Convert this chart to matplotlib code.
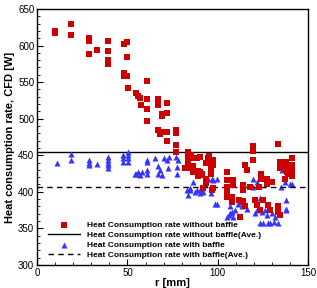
import numpy as np
import matplotlib
matplotlib.use('Agg')
import matplotlib.pyplot as plt
from matplotlib.ticker import MultipleLocator

plt.rcParams['font.family'] = ['Liberation Sans', 'DejaVu Sans']

## Data ##
r_no_baffle = [10, 10, 19, 19, 29, 29, 29, 33, 39.5, 39.5, 39.5, 39.5, 48, 50, 50,
               48, 48, 50, 50.5, 61, 55, 56, 57, 57.4, 61, 61, 61, 67, 67, 69,
               69, 72, 72, 67, 68, 69, 72, 72, 77, 77, 77, 77, 83.4, 85, 90,
               83.7, 86.5, 88.4, 82, 83.7, 83.7, 86.5, 86.5, 89, 89, 91, 94.8, 94.8,
               96, 96, 95.4, 95.4, 97.6, 97.6, 93.5, 90, 90, 93.5, 93.5, 97.6, 92,
               97, 105, 105, 108.6, 108.6, 105, 105.3, 105.3, 107.7, 107.7, 112,
               112.3, 114.2, 115, 115, 119.4, 114, 114, 116, 118, 119.4, 119.4,
               120.6, 121.6, 123.4, 124, 124, 125, 123, 127, 127, 128, 129, 130,
               133.5, 133.5, 133.5, 134.5, 134.5, 134.5, 138, 138, 137, 141, 141,
               141, 141, 138.5, 139]
q_no_baffle = [620, 617, 629, 615, 610, 606, 588, 594, 606, 592, 580, 575, 602, 605, 584,
               562, 558, 558, 542, 552, 535, 531, 528, 518, 527, 513, 497, 527, 518, 507,
               504, 521, 508, 484, 479, 482, 482, 469, 484, 480, 464, 455, 455, 450, 448,
               446, 446, 446, 432, 438, 432, 435, 427, 428, 422, 425, 446, 439,
               432, 425, 449, 443, 443, 437, 439, 427, 423, 417, 412, 405, 405,
               402, 427, 416, 416, 409, 407, 400, 393, 393, 386, 389,
               366, 387, 380, 437, 444, 409, 403, 430, 407, 462, 456,
               389, 382, 375, 425, 418, 389, 407, 418, 411, 382, 375, 414,
               465, 380, 373, 368, 441, 432, 441, 432, 418, 446, 437,
               430, 421, 427, 425]
r_baffle = [10.9, 18.8, 18.8, 29, 29, 29, 33, 39.5, 39.5, 39.5, 39.5, 39.5, 47.8, 47.8,
            47.8, 50.2, 50.2, 50.2, 50.2, 55, 56, 54, 57, 58, 61, 61, 61, 61, 67, 67,
            68, 69, 65, 70, 73, 77, 78, 72.6, 77.3, 77.3, 72, 83.7, 84.7, 87.4, 90, 90,
            82.8, 86.5, 84.7, 88.4, 92, 93, 96, 96, 96.7, 99.4, 95.7, 96.7, 94.8, 97.6,
            99.4, 98.5, 91, 106.8, 107.7, 109.6, 106, 107, 105, 108.6, 111, 112.3,
            113.3, 116, 119.7, 121.6, 119.7, 121.6, 120.6, 124.3, 123.4, 126, 127, 125,
            128, 131, 123.4, 129, 131.7, 130, 133.5, 134.5, 136.3, 135.4, 137, 140, 135,
            138, 141, 138, 138]
q_baffle = [440, 452, 443, 444, 440, 437, 438, 448, 443, 440, 436, 432, 450, 446,
            441, 455, 450, 446, 441, 425, 427, 424, 423, 427, 444, 441, 430, 425, 435, 425,
            430, 423, 446, 446, 448, 448, 443, 432, 434, 425, 443, 395, 402, 400, 402, 398,
            402, 414, 405, 402, 400, 411, 407, 398, 418, 418, 448, 439, 418, 416,
            384, 384, 402, 380, 373, 375, 368, 371, 366, 366, 384, 386,
            380, 377, 418, 414, 407, 375, 371, 373, 391, 375, 368, 357,
            357, 359, 357, 357, 366, 371, 357, 434, 432, 430, 414, 411, 407,
            375, 411, 377, 389]
avg_no_baffle = 454
avg_baffle = 407

labels = ['Heat Consumption rate without baffle',
          'Heat Consumption rate without baffle(Ave.)',
          'Heat Consumption rate with baffle',
          'Heat Consumption rate with baffle(Ave.)']

fig = plt.figure(figsize=[3.17, 2.88], dpi=100)
ax = fig.add_axes([0.117, 0.080, 0.855, 0.889])

ax.scatter(r_no_baffle, q_no_baffle, marker='s', s=15, color='#cc0000',
           linewidths=0, label=labels[0], zorder=3)
ax.axhline(avg_no_baffle, color='k', lw=1.0, label=labels[1])
ax.scatter(r_baffle, q_baffle, marker='^', s=19, color='#3535ff',
           linewidths=0, label=labels[2], zorder=2)
ax.axhline(avg_baffle, color='k', lw=1.0, ls=(0, (4, 3)), label=labels[3])

ax.set_xlim(0, 150)
ax.set_ylim(300, 650)
ax.xaxis.set_major_locator(MultipleLocator(50))
ax.xaxis.set_minor_locator(MultipleLocator(10))
ax.yaxis.set_major_locator(MultipleLocator(50))
ax.yaxis.set_minor_locator(MultipleLocator(10))
ax.tick_params(axis='both', which='both', direction='in', labelsize=7,
               top=False, right=False, pad=2)
ax.tick_params(which='major', length=4)
ax.tick_params(which='minor', length=2)
for sp in ax.spines.values():
    sp.set_linewidth(1.0)

ax.set_xlabel('r [mm]', fontsize=8, fontweight='bold', labelpad=0)
ax.set_ylabel('Heat consumption rate, CFD [W]', fontsize=8, fontweight='bold',
              labelpad=2)

leg = ax.legend(loc='lower left', frameon=False, prop={'size': 6, 'weight': 'bold'},
                handlelength=3.8, handletextpad=0.8, labelspacing=0.25,
                borderaxespad=0.3, bbox_to_anchor=(0.02, 0.0))

plt.savefig('out.png', dpi=100)
